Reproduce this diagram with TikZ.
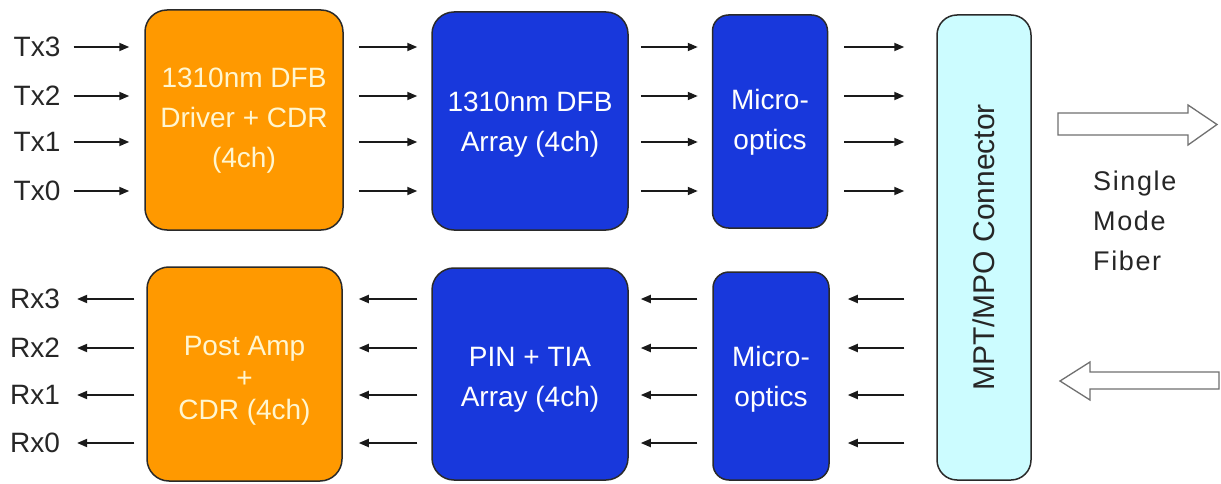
\documentclass[tikz,border=0pt]{standalone}
\usepackage{fontspec}
\setmainfont{Liberation Sans}
\usetikzlibrary{arrows.meta}
\definecolor{orng}{HTML}{FF9900}
\definecolor{blu}{HTML}{1838DC}
\definecolor{cyn}{HTML}{CCFCFF}
\definecolor{otext}{HTML}{FFF6D0}
\definecolor{boxline}{HTML}{2A2A2A}
\definecolor{lbltext}{HTML}{262626}
\definecolor{sigcol}{HTML}{1A1A1A}
\definecolor{hollowcol}{HTML}{707070}
\begin{document}
\begin{tikzpicture}[x=1pt,y=-1pt,
  box/.style={draw=boxline, line width=1.5pt, rounded corners=22pt, inner sep=0pt},
  obox/.style={box, fill=orng},
  bbox/.style={box, fill=blu},
  btext/.style={align=center, inner sep=0pt, font=\fontsize{28}{40}\selectfont},
  otxt/.style={btext, text=otext},
  wtxt/.style={btext, text=white},
  lbl/.style={inner sep=0pt, font=\fontsize{28}{34}\selectfont, text=lbltext},
  sig/.style={line width=1.8pt, draw=sigcol, -{Triangle[length=10pt,width=8pt]}},
  hollow/.style={draw=hollowcol, line width=1.3pt, fill=white, line join=miter}
]
\useasboundingbox (0,0) rectangle (1221,484);
\fill[white] (0,0) rectangle (1221,484);

% rows
\coordinate (tA) at (0,47);
\coordinate (tB) at (0,96);
\coordinate (tC) at (0,142);
\coordinate (tD) at (0,191);
\coordinate (bA) at (0,299);
\coordinate (bB) at (0,348);
\coordinate (bC) at (0,395);
\coordinate (bD) at (0,443);

% boxes
\node[obox, minimum width=198pt, minimum height=220pt] (o1) at (244,120) {};
\node[otxt] (o1t) at ([yshift=-1pt]o1.center) {1310nm DFB\\Driver + CDR\\(4ch)};
\node[bbox, minimum width=196pt, minimum height=218pt] (b1) at (530,121) {};
\node[wtxt] (b1t) at ([yshift=-4pt]b1.center) {1310nm DFB\\Array (4ch)};
\node[bbox, rounded corners=16pt, minimum width=115pt, minimum height=213pt] (m1) at (770,121.5) {};
\node[wtxt] (m1t) at ([yshift=-1pt]m1.center) {Micro-\\optics};
\node[obox, minimum width=195pt, minimum height=214pt] (o2) at (244.5,374) {};
\node[otxt, font=\fontsize{28}{32}\selectfont] (o2t) at ([yshift=-7pt]o2.center) {Post Amp\\+\\CDR (4ch)};
\node[bbox, minimum width=196pt, minimum height=212pt] (b2) at (530,374) {};
\node[wtxt] (b2t) at ([yshift=-6pt]b2.center) {PIN + TIA\\Array (4ch)};
\node[bbox, rounded corners=16pt, minimum width=116pt, minimum height=208pt] (m2) at (771,376) {};
\node[wtxt] (m2t) at ([yshift=-3pt]m2.center) {Micro-\\optics};
\node[box, rounded corners=20pt, fill=cyn, minimum width=94pt, minimum height=465pt] (conn) at (984,247.5) {};
\node[lbl, rotate=90, font=\fontsize{30}{34}\selectfont] (conntext) at (conn.center) {MPT/MPO Connector};

% Tx labels
\node[lbl] (tx3) at (37,47) {Tx3};
\node[lbl] (tx2) at (37,96) {Tx2};
\node[lbl] (tx1) at (37,142) {Tx1};
\node[lbl] (tx0) at (37,191) {Tx0};
\foreach \t in {tx3,tx2,tx1,tx0}
  \draw[sig, shorten <=13pt, shorten >=15pt] (\t.east) -- (o1.west |- \t);

% Rx labels
\node[lbl] (rx3) at (35,299) {Rx3};
\node[lbl] (rx2) at (35,348) {Rx2};
\node[lbl] (rx1) at (35,395) {Rx1};
\node[lbl] (rx0) at (35,443) {Rx0};
\foreach \r in {rx3,rx2,rx1,rx0}
  \draw[sig, shorten <=12pt, shorten >=17pt] (o2.west |- \r) -- (\r.east);

% transmit chain
\foreach \row in {tA,tB,tC,tD}{
  \draw[sig, shorten <=15pt, shorten >=14pt] (o1.east |- \row) -- (b1.west |- \row);
  \draw[sig, shorten <=12pt, shorten >=14pt] (b1.east |- \row) -- (m1.west |- \row);
  \draw[sig, shorten <=16pt, shorten >=32pt] (m1.east |- \row) -- (conn.west |- \row);
}
% receive chain
\foreach \row in {bA,bB,bC,bD}{
  \draw[sig, shorten <=32pt, shorten >=18pt] (conn.west |- \row) -- (m2.east |- \row);
  \draw[sig, shorten <=15pt, shorten >=12pt] (m2.west |- \row) -- (b2.east |- \row);
  \draw[sig, shorten <=14pt, shorten >=16pt] (b2.west |- \row) -- (o2.east |- \row);
}

% fiber arrows
\draw[hollow] (1058,113) -- (1188,113) -- (1188,105) -- (1217,124.5) -- (1188,145) -- (1188,135) -- (1058,135) -- cycle;
\draw[hollow] (1060,381) -- (1090,362) -- (1090,372) -- (1219,372) -- (1219,389) -- (1090,389) -- (1090,400) -- cycle;

\node[lbl, align=left, anchor=west, font=\fontsize{27}{40}\selectfont\addfontfeatures{LetterSpace=6}] (smf) at (1093,221) {Single\\Mode\\Fiber};
\end{tikzpicture}
\end{document}
